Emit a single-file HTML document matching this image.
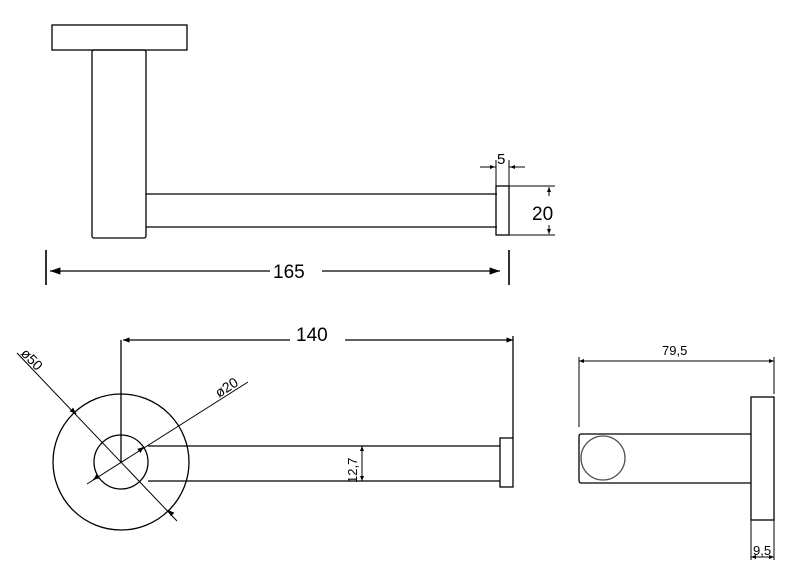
<!DOCTYPE html>
<html><head><style>body{margin:0;background:#fff}svg{display:block}text{font-family:"Liberation Sans",sans-serif;fill:#000}</style></head><body>
<svg width="800" height="569" viewBox="0 0 800 569" xmlns="http://www.w3.org/2000/svg">
<defs><marker id="a" viewBox="0 0 10 10" refX="10" refY="5" markerWidth="8" markerHeight="8" orient="auto-start-reverse"><path d="M0,1.5L10,5L0,8.5z" fill="#000"/></marker>
<marker id="s" viewBox="0 0 10 10" refX="10" refY="5" markerWidth="5" markerHeight="5" orient="auto-start-reverse"><path d="M0,1L10,5L0,9z" fill="#000"/></marker></defs>
<g fill="none" stroke="#000" stroke-width="1.3">
<rect x="52" y="25" width="135" height="25"/>
<rect x="92" y="50" width="54" height="188" rx="2"/>
<path d="M146 194H497M146 227H497"/>
<rect x="496" y="186" width="13" height="49"/>
<path d="M496 186V160M509 186V160M480 167H496M525 167H509" stroke-width="1"/>
<path d="M483 167H495" marker-end="url(#s)" stroke-width="1"/>
<path d="M522 167H510" marker-end="url(#s)" stroke-width="1"/>
<path d="M509 186H555M509 235H555" stroke-width="1"/>
<path d="M549 196V187" marker-end="url(#s)" stroke-width="1"/>
<path d="M549 225V234" marker-end="url(#s)" stroke-width="1"/>
<path d="M46 250V285M509 250V285" stroke-width="1.6"/>
<path d="M270 271H50" marker-end="url(#a)"/>
<path d="M322 271H500" marker-end="url(#a)"/>
<circle cx="121" cy="462" r="68"/>
<circle cx="121" cy="462" r="27"/>
<path d="M121 340V462" />
<path d="M290 340H123" marker-end="url(#s)"/>
<path d="M345 340H513" marker-end="url(#s)"/>
<path d="M513 336V438"/>
<path d="M148 446H500M148 481H500"/>
<rect x="500" y="438" width="13" height="49"/>
<path d="M362 446V481" stroke-width="1" marker-start="url(#s)" marker-end="url(#s)"/>
<path d="M17 353L177 521" stroke-width="1"/>
<path d="M72 410L76 414" marker-end="url(#s)"/>
<path d="M172 514L168 510" marker-end="url(#s)"/>
<path d="M87 484L248 382" stroke-width="1"/>
<path d="M140 450L144 447" marker-end="url(#s)"/>
<path d="M97 477L93 480" marker-end="url(#s)"/>
<path d="M579 361H774" marker-start="url(#s)" marker-end="url(#s)" stroke-width="1"/>
<path d="M579 357V427M774 357V394M751 520V560M774 520V560" stroke-width="1"/>
<rect x="751" y="397" width="23" height="123"/>
<path d="M751 434H581Q579 434 579 437V480Q579 483 581 483H751"/>
<circle cx="603" cy="458" r="22" stroke="#555"/>
<path d="M751 557H774" marker-start="url(#s)" marker-end="url(#s)" stroke-width="1"/>
</g>
<text x="497" y="164" font-size="15">5</text>
<text x="532" y="220" font-size="19">20</text>
<text x="273" y="278" font-size="19">165</text>
<text x="296" y="341" font-size="19">140</text>
<text x="662" y="355" font-size="13">79,5</text>
<text x="753" y="555" font-size="13">9,5</text>
<text transform="translate(357,483) rotate(-90)" font-size="13">12,7</text>
<text transform="translate(20,354) rotate(46)" font-size="14">ø50</text>
<text transform="translate(219,398) rotate(-33)" font-size="14">ø20</text>
</svg>
</body></html>
